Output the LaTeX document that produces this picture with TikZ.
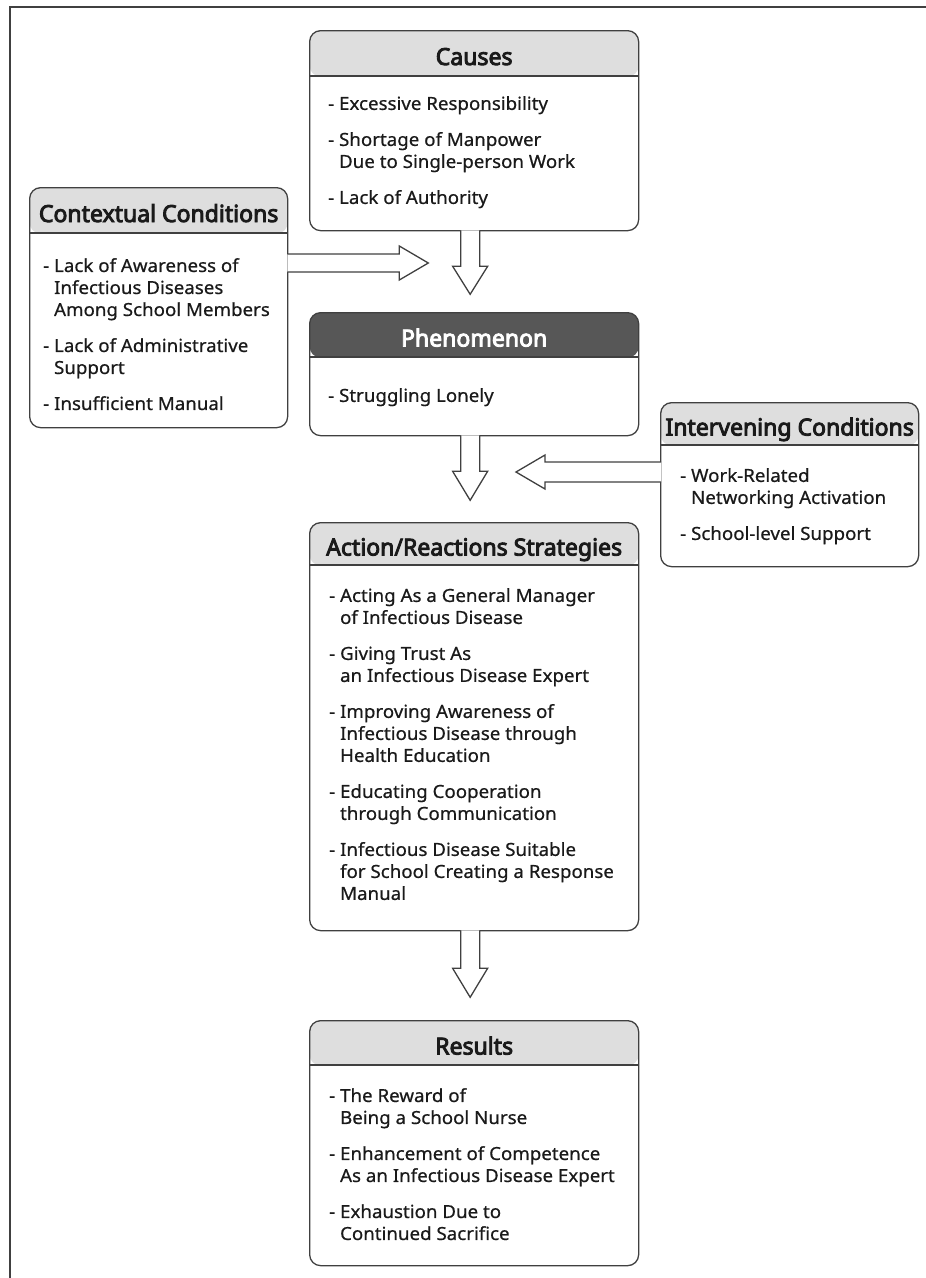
\documentclass[tikz,border=0pt]{standalone}
\usepackage{fontspec}
\setmainfont{Noto Sans}[FakeStretch=1.04, FakeBold=0.6]
\newfontfamily\headfont{Noto Sans}[FakeStretch=0.98, FakeBold=3.8]
\usepackage{tikz}
\definecolor{boxline}{HTML}{404040}
\definecolor{headgray}{HTML}{DEDEDE}
\definecolor{phengray}{HTML}{575757}
\definecolor{inkgray}{HTML}{1A1A1A}
\newcommand{\ind}{\hphantom{- }}

\begin{document}
\begin{tikzpicture}[x=1pt, y=-1pt,
  box/.style={draw=boxline, line width=1.3pt, rounded corners=11pt, anchor=north west, inner sep=0pt, fill=white},
  headfill/.style 2 args={path picture={\fill[#1] (path picture bounding box.north west) rectangle ([yshift=-#2]path picture bounding box.north east);}},
  title/.style={anchor=base, inner sep=0pt, font=\headfont\fontsize{23.5}{28}\selectfont, text=inkgray},
  items/.style={anchor=north west, inner sep=0pt, align=left, font=\fontsize{18}{22}\selectfont, text=inkgray},
  sep/.style={draw=boxline, line width=1.3pt},
  blockarrow/.style={draw=boxline, line width=1.3pt, fill=white, line join=miter}]
\useasboundingbox (0,0) rectangle (926,1278);
\draw[draw=boxline, line width=1.5pt] (10,1280) -- (10,7) -- (928,7);

\node[box, headfill={headgray}{46pt}, minimum width=329pt, minimum height=200pt] (Cau) at (309,30) {};
\node[box, headfill={headgray}{46pt}, minimum width=258pt, minimum height=240pt] (Con) at (29,187) {};
\node[box, headfill={phengray}{45pt}, minimum width=329pt, minimum height=123pt] (Phe) at (309,312) {};
\node[box, headfill={headgray}{43pt}, minimum width=258pt, minimum height=164pt] (Int) at (660,402) {};
\node[box, headfill={headgray}{43pt}, minimum width=329pt, minimum height=408pt] (Act) at (309,522) {};
\node[box, headfill={headgray}{45pt}, minimum width=329pt, minimum height=245pt] (Res) at (309,1020) {};

\draw[sep] ([yshift=-46pt]Cau.north west) -- ([yshift=-46pt]Cau.north east);
\draw[sep] ([yshift=-46pt]Con.north west) -- ([yshift=-46pt]Con.north east);
\draw[sep] ([yshift=-45pt]Phe.north west) -- ([yshift=-45pt]Phe.north east);
\draw[sep] ([yshift=-43pt]Int.north west) -- ([yshift=-43pt]Int.north east);
\draw[sep] ([yshift=-43pt]Act.north west) -- ([yshift=-43pt]Act.north east);
\draw[sep] ([yshift=-45pt]Res.north west) -- ([yshift=-45pt]Res.north east);

\node[title] (CauT) at ([yshift=-35pt]Cau.north) {Causes};
\node[title] (ConT) at ([yshift=-35pt]Con.north) {Contextual Conditions};
\node[title, text=white] (PheT) at ([yshift=-34.5pt]Phe.north) {Phenomenon};
\node[title] (IntT) at ([yshift=-33.5pt]Int.north) {Intervening Conditions};
\node[title] (ActT) at ([yshift=-33.5pt]Act.north) {Action/Reactions Strategies};
\node[title] (ResT) at ([yshift=-34.5pt]Res.north) {Results};

\node[items] (CauL) at ([xshift=19pt, yshift=-66pt]Cau.north west) {- Excessive Responsibility\\[14pt]- Shortage of Manpower\\\ind Due to Single-person Work\\[14pt]- Lack of Authority};
\node[items] (ConL) at ([xshift=14pt, yshift=-71pt]Con.north west) {- Lack of Awareness of\\\ind Infectious Diseases\\\ind Among School Members\\[14pt]- Lack of Administrative\\\ind Support\\[14pt]- Insufficient Manual};
\node[items] (PheL) at ([xshift=19pt, yshift=-76pt]Phe.north west) {- Struggling Lonely};
\node[items] (IntL) at ([xshift=20pt, yshift=-66pt]Int.north west) {- Work-Related\\\ind Networking Activation\\[14pt]- School-level Support};
\node[items] (ActL) at ([xshift=20pt, yshift=-66pt]Act.north west) {- Acting As a General Manager\\\ind of Infectious Disease\\[14pt]- Giving Trust As\\\ind an Infectious Disease Expert\\[14pt]- Improving Awareness of\\\ind Infectious Disease through\\\ind Health Education\\[14pt]- Educating Cooperation\\\ind through Communication\\[14pt]- Infectious Disease Suitable\\\ind for School Creating a Response\\\ind Manual};
\node[items] (ResL) at ([xshift=20pt, yshift=-68pt]Res.north west) {- The Reward of\\\ind Being a School Nurse\\[14pt]- Enhancement of Competence\\\ind As an Infectious Disease Expert\\[14pt]- Exhaustion Due to\\\ind Continued Sacrifice};

\filldraw[blockarrow] ([xshift=-13.5pt, yshift=1pt]Cau.south) -- ++(0,36) -- ++(-8,0) -- ++(17.5,28) -- ++(17.5,-28) -- ++(-8,0) -- ++(0,-36);
\filldraw[blockarrow] ([xshift=-1pt, yshift=-67pt]Con.north east) -- ++(112,0) -- ++(0,-8) -- ++(29,17) -- ++(-29,17) -- ++(0,-8) -- ++(-112,0);
\filldraw[blockarrow] ([xshift=-13.5pt, yshift=1pt]Phe.south) -- ++(0,36) -- ++(-8,0) -- ++(17.5,29) -- ++(17.5,-29) -- ++(-8,0) -- ++(0,-36);
\filldraw[blockarrow] ([xshift=1pt, yshift=-60pt]Int.north west) -- ++(-116,0) -- ++(0,-7) -- ++(-29,17) -- ++(29,17) -- ++(0,-7) -- ++(116,0);
\filldraw[blockarrow] ([xshift=-13.5pt, yshift=1pt]Act.south) -- ++(0,38) -- ++(-8,0) -- ++(17.5,29) -- ++(17.5,-29) -- ++(-8,0) -- ++(0,-38);
\end{tikzpicture}
\end{document}
